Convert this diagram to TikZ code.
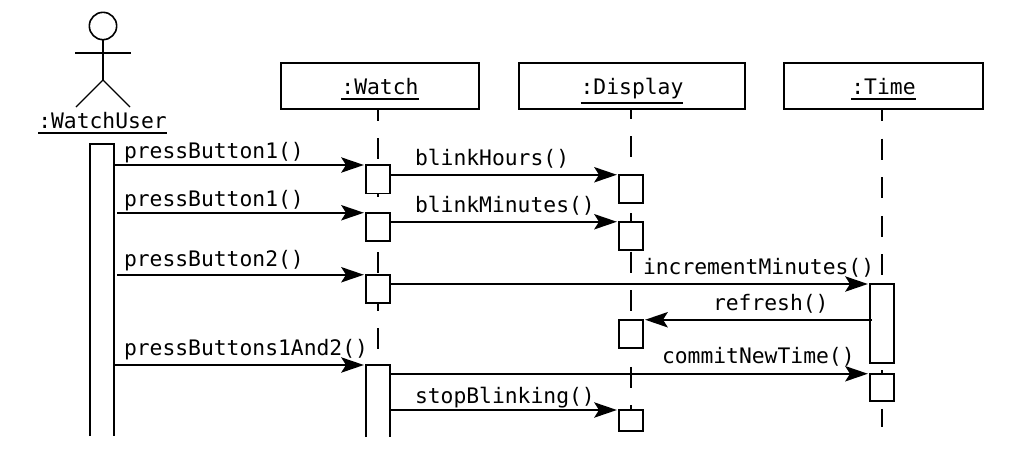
\documentclass[tikz,border=0pt]{standalone}
\usepackage{fontspec}
\setmainfont{DejaVu Sans Mono}
\usetikzlibrary{arrows.meta}
\newcommand{\ulname}[1]{\vtop{\hbox{#1}\kern 3pt\hrule height 1.3pt}}
\tikzset{
  objbox/.style={draw,line width=1.45pt,fill=white,inner sep=0pt,outer sep=0pt,minimum height=34.5pt},
  actbar/.style={draw,line width=1.45pt,fill=white,inner sep=0pt,outer sep=0pt,minimum width=18pt,minimum height=#1*0.75pt},
  openbar/.style={inner sep=0pt,outer sep=0pt,minimum width=18pt,minimum height=#1*0.75pt},
  barline/.style={line width=1.45pt},
  actorline/.style={line width=1.45pt},
  msg/.style={line width=1.45pt,-{Stealth[length=17pt,width=11.5pt,inset=3.6pt]},shorten >=1.6pt},
  msglabel/.style={anchor=base west,inner sep=0pt,outer sep=0pt,font=\fontsize{16pt}{18pt}\selectfont},
  namelabel/.style={anchor=base,inner sep=0pt,outer sep=0pt,yshift=-6pt,font=\fontsize{16pt}{18pt}\selectfont},
  lifeA/.style={line width=1.45pt,dash pattern=on 15.75pt off 12.75pt,dash phase=6.75pt},
  lifeB/.style={line width=1.45pt,dash pattern=on 15.75pt off 13.05pt,dash phase=8.25pt},
  lifeC/.style={line width=1.45pt,dash pattern=on 15.75pt off 13.2pt,dash phase=6.75pt},
}
\begin{document}
\begin{tikzpicture}[x=0.75pt,y=-0.75pt]
\useasboundingbox (0,0) rectangle (1018,461);
% object boxes
\node[objbox,minimum width=148.5pt] (watch) at (380,86) {};
\node[objbox,minimum width=169.5pt] (display) at (632,86) {};
\node[objbox,minimum width=149.25pt] (time) at (883.5,86) {};
\node[namelabel] (watchname) at (watch.center) {\ulname{:Watch}};
\node[namelabel] (displayname) at (display.center) {\ulname{:Display}};
\node[namelabel] (timename) at (time.center) {\ulname{:Time}};
% lifeline ends
\coordinate (watchend) at (378,366);
\coordinate (displayend) at (631,410);
\coordinate (timeend) at (882,427);
\draw[lifeA] (watch.south -| watchend) -- (watchend);
\draw[lifeB] (display.south -| displayend) -- (displayend);
\draw[lifeC] (time.south -| timeend) -- (timeend);
% actor
\node[draw,circle,line width=1.2pt,inner sep=0pt,outer sep=0pt,minimum size=20.5pt] (head) at (103,26) {};
\coordinate (hip) at (103,80);
\coordinate (armL) at (75,53);
\coordinate (armR) at (131,53);
\coordinate (footL) at (76,107);
\coordinate (footR) at (130,107);
\draw[actorline] (head.south) -- (hip);
\draw[actorline] (armL) -- (armR);
\draw[line width=1.05pt] (footL) -- (hip) -- (footR);
\node[anchor=base,inner sep=0pt,outer sep=0pt,font=\fontsize{16pt}{18pt}\selectfont] (username) at (102.5,128) {\ulname{:WatchUser}};
% open-ended bars
\node[openbar=292] (user) at (102,290) {};
\draw[barline] (user.south west) |- (user.north east) -- (user.south east);
\node[openbar=72] (w4) at (378,401) {};
\node[fill=white,inner sep=0pt,outer sep=0pt,minimum width=18pt,minimum height=54pt] at (w4) {};
\draw[barline] (w4.south west) |- (w4.north east) -- (w4.south east);
% activation boxes
\node[actbar=28.5] (w1) at (378,179.25) {};
\node[actbar=28.5] (w2) at (378,227) {};
\node[actbar=28.5] (w3) at (378,289) {};
\node[actbar=28.5] (d1) at (631,189) {};
\node[actbar=28.5] (d2) at (631,236) {};
\node[actbar=28.5] (d3) at (631,334) {};
\node[actbar=21] (d4) at (631,420.5) {};
\node[actbar=79] (t1) at (882,323.5) {};
\node[actbar=27.5] (t2) at (882,387.5) {};
% messages
\draw[msg] (w1.north west -| user.east) -- (w1.north west);
\draw[msg] ([xshift=2.25pt]w2.north west -| user.east) -- (w2.north west);
\draw[msg] ([xshift=2.25pt]w3.north west -| user.east) -- (w3.north west);
\draw[msg] (w4.north west -| user.east) -- (w4.north west);
\draw[msg] (d1.north west -| w1.east) -- (d1.north west);
\draw[msg] (d2.north west -| w2.east) -- (d2.north west);
\draw[msg] (t1.north west -| w3.east) -- (t1.north west);
\draw[msg] ([xshift=1.5pt]d3.north east -| t1.west) -- (d3.north east);
\draw[msg] (t2.north west -| w4.east) -- (t2.north west);
\draw[msg] (d4.north west -| w4.east) -- (d4.north west);
% labels
\node[msglabel] (m1) at (124,158) {pressButton1()};
\node[msglabel] (m2) at (124,206) {pressButton1()};
\node[msglabel] (m3) at (124,266) {pressButton2()};
\node[msglabel] (m4) at (124,355) {pressButtons1And2()};
\node[msglabel] (m5) at (415,165) {blinkHours()};
\node[msglabel] (m6) at (415,212) {blinkMinutes()};
\node[msglabel] (m7) at (643,274) {incrementMinutes()};
\node[msglabel] (m8) at (713,310) {refresh()};
\node[msglabel] (m9) at (662,363) {commitNewTime()};
\node[msglabel] (m10) at (415,403) {stopBlinking()};
\end{tikzpicture}
\end{document}
